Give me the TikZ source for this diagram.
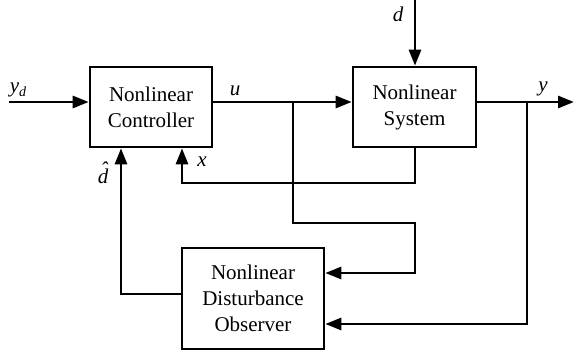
\documentclass[tikz,border=0pt]{standalone}
\usepackage{fontspec}
\setmainfont{Liberation Serif}
\usetikzlibrary{arrows.meta}
\begin{document}
\begin{tikzpicture}[x=1pt,y=-1pt,
  blk/.style={draw,line width=2.6pt,inner sep=0pt,align=center,font=\fontsize{21}{26}\selectfont},
  conn/.style={line width=2.8pt},
  arr/.style={conn,-{Triangle[length=16pt,width=12pt]}},
  lbl/.style={font=\fontsize{21}{26}\selectfont\itshape,inner sep=0pt}]
\useasboundingbox (0,0) rectangle (574,358);
\node[blk,minimum width=122pt,minimum height=80pt] (ctrl) at (151,107) {Nonlinear\\Controller};
\node[blk,minimum width=123pt,minimum height=80pt] (sys) at (414.5,107) {Nonlinear\\System\vphantom{C}};
\node[blk,minimum width=142pt,minimum height=101pt] (obs) at (253,298.5) {Nonlinear\\Disturbance\\Observer};
% coordinates
\coordinate (yin) at (9,102);
\coordinate (ub) at (293,102);
\coordinate (yb) at (527,102);
\coordinate (yout) at (574,102);
\coordinate (din) at (415,0);
\coordinate (xa) at (415,183);
\coordinate (xb) at (182,183);
\coordinate (da) at (121,294);
\coordinate (ua) at (293,223);
\coordinate (ubb) at (415,223);
\coordinate (uc) at (415,273);
\coordinate (ya) at (527,324);
% connectors
\draw[arr] (yin) -- (yin -| ctrl.west);
\draw[conn] (ub -| ctrl.east) -- (ub);
\draw[arr] (ub) -- (ub -| sys.west);
\draw[conn] (yb -| sys.east) -- (yb);
\draw[arr] (yb) -- (yout);
\draw[arr] (din) -- (din |- sys.north);
\draw[arr] (xa |- sys.south) -- (xa) -- (xb) -- (xb |- ctrl.south);
\draw[arr] (da -| obs.west) -- (da) -- (da |- ctrl.south);
\draw[arr] (ub) -- (ua) -- (ubb) -- (uc) -- (uc -| obs.east);
\draw[arr] (yb) -- (ya) -- (ya -| obs.east);
% labels
\node[lbl] (lyd) at (18,90) {y\raisebox{-4pt}{\fontsize{14}{16}\selectfont d}};
\node[lbl] (lu) at (235,91) {u};
\node[lbl] (lx) at (202,162) {x};
\node[lbl] (ldh) at (103,176) {\ooalign{d\cr\hidewidth\kern2pt\raisebox{6.5pt}{\char"02C6}\hidewidth\cr}};
\node[lbl] (ld) at (398,14) {d};
\node[lbl] (ly) at (543,89) {y};
\end{tikzpicture}
\end{document}
